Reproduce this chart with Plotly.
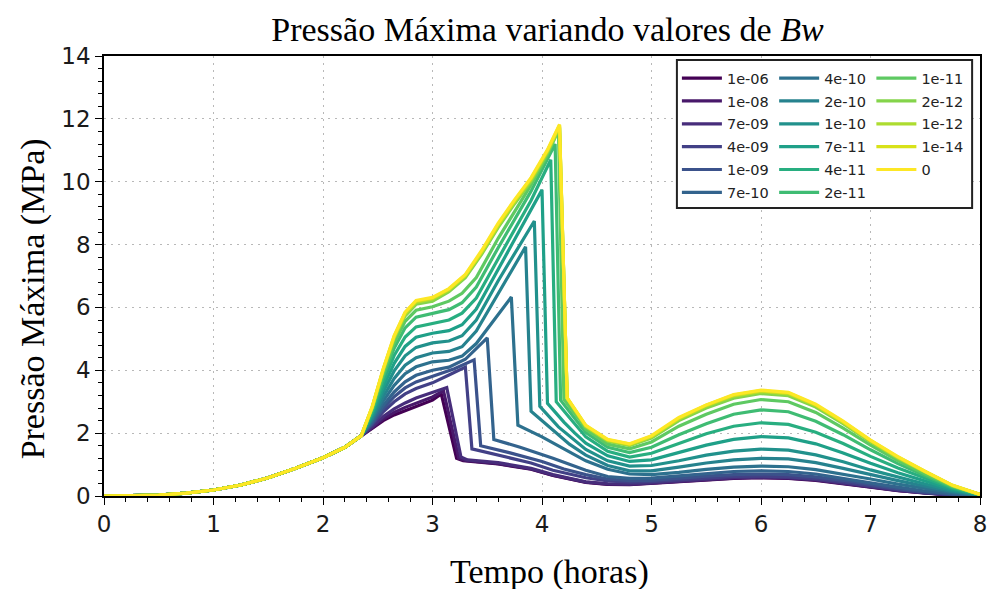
import plotly.graph_objects as go

# ---------------- data ----------------
labels = ["1e-06", "1e-08", "7e-09", "4e-09", "1e-09", "7e-10", "4e-10", "2e-10", "1e-10",
          "7e-11", "4e-11", "2e-11", "1e-11", "2e-12", "1e-12", "1e-14", "0"]

colors = ["#440154", "#48186a", "#472d7b", "#424086", "#3b528b", "#33638d", "#2d718e", "#26828e",
          "#21918c", "#1fa088", "#28ae80", "#3fbc73", "#5ec962", "#84d44b", "#addc30", "#d8e219", "#fde725"]

# common initial part (identical for every Bw)
t_early = [0.0, 0.25, 0.5, 0.75, 1.0, 1.25, 1.5, 1.75, 2.0, 2.2, 2.35]
p_early = [0.0, 0.005, 0.03, 0.09, 0.19, 0.35, 0.58, 0.88, 1.22, 1.55, 1.92]

# common time grid for the late part
t_tail = [4.4, 4.6, 4.8, 5.0, 5.25, 5.5, 5.75, 6.0, 6.25, 6.5, 6.75, 7.0, 7.25, 7.5, 7.75, 8.0]

# middle part (rise, peak, drop) per series
t_mid_1e06 = [2.45, 2.55, 2.65, 2.75, 2.85, 3.0, 3.08, 3.22, 3.28, 3.6, 3.9, 4.1]
p_mid_1e06 = [2.15, 2.4, 2.58, 2.72, 2.86, 3.05, 3.25, 1.2, 1.12, 1.02, 0.85, 0.65]
tail_1e06 = [0.43, 0.37, 0.36, 0.4, 0.46, 0.52, 0.56, 0.58, 0.56, 0.5, 0.4, 0.28, 0.17, 0.09, 0.03, 0.0]

t_mid_1e08 = [2.45, 2.55, 2.65, 2.75, 2.85, 3.0, 3.1, 3.24, 3.3, 3.6, 3.9, 4.1]
p_mid_1e08 = [2.17, 2.45, 2.66, 2.82, 2.96, 3.15, 3.35, 1.2, 1.13, 1.03, 0.86, 0.66]
tail_1e08 = [0.44, 0.38, 0.37, 0.41, 0.47, 0.53, 0.57, 0.59, 0.57, 0.51, 0.41, 0.29, 0.18, 0.09, 0.03, 0.0]

t_mid_7e09 = [2.45, 2.55, 2.65, 2.75, 2.85, 3.0, 3.13, 3.26, 3.32, 3.6, 3.9, 4.1]
p_mid_7e09 = [2.2, 2.53, 2.77, 2.96, 3.12, 3.3, 3.45, 1.24, 1.15, 1.06, 0.88, 0.68]
tail_7e09 = [0.45, 0.39, 0.38, 0.42, 0.48, 0.54, 0.58, 0.6, 0.58, 0.52, 0.42, 0.3, 0.18, 0.1, 0.03, 0.0]

t_mid_4e09 = [2.45, 2.55, 2.65, 2.75, 2.85, 3.0, 3.15, 3.3, 3.36, 3.6, 3.9, 4.1]
p_mid_4e09 = [2.27, 2.68, 3.0, 3.25, 3.42, 3.6, 3.85, 4.1, 1.5, 1.3, 1.05, 0.82]
tail_4e09 = [0.58, 0.48, 0.44, 0.46, 0.52, 0.58, 0.62, 0.63, 0.61, 0.55, 0.45, 0.32, 0.2, 0.1, 0.04, 0.0]

t_mid_1e09 = [2.45, 2.55, 2.65, 2.75, 2.85, 3.0, 3.2, 3.38, 3.44, 3.7, 4.0, 4.2]
p_mid_1e09 = [2.31, 2.78, 3.16, 3.44, 3.63, 3.8, 4.05, 4.33, 1.6, 1.38, 1.1, 0.86]
tail_1e09 = [0.68, 0.54, 0.49, 0.5, 0.57, 0.63, 0.68, 0.7, 0.68, 0.61, 0.5, 0.36, 0.23, 0.12, 0.05, 0.01]

t_mid_7e10 = [2.45, 2.55, 2.65, 2.75, 2.85, 3.0, 3.15, 3.3, 3.5, 3.56, 3.8, 4.1]
p_mid_7e10 = [2.35, 2.88, 3.31, 3.63, 3.84, 4.0, 4.1, 4.35, 5.03, 1.8, 1.55, 1.2]
tail_7e10 = [0.82, 0.62, 0.56, 0.57, 0.64, 0.72, 0.78, 0.8, 0.78, 0.7, 0.57, 0.42, 0.28, 0.16, 0.07, 0.01]

t_mid_4e10 = [2.45, 2.55, 2.65, 2.75, 2.85, 3.0, 3.15, 3.27, 3.4, 3.55, 3.72, 3.78, 4.0, 4.2]
p_mid_4e10 = [2.41, 3.02, 3.52, 3.89, 4.11, 4.27, 4.32, 4.45, 4.85, 5.55, 6.33, 2.25, 1.88, 1.5]
tail_4e10 = [1.12, 0.85, 0.7, 0.68, 0.75, 0.85, 0.92, 0.95, 0.93, 0.84, 0.7, 0.54, 0.38, 0.24, 0.11, 0.02]

t_mid_2e10 = [2.45, 2.55, 2.65, 2.75, 2.85, 3.0, 3.15, 3.27, 3.4, 3.6, 3.85, 3.9, 4.1, 4.25]
p_mid_2e10 = [2.47, 3.16, 3.74, 4.16, 4.4, 4.55, 4.6, 4.75, 5.25, 6.42, 7.93, 2.7, 2.1, 1.65]
tail_2e10 = [1.3, 0.97, 0.8, 0.8, 0.92, 1.05, 1.15, 1.2, 1.18, 1.06, 0.88, 0.68, 0.49, 0.31, 0.14, 0.03]

t_mid_1e10 = [2.45, 2.55, 2.65, 2.75, 2.85, 3.0, 3.15, 3.27, 3.4, 3.6, 3.93, 3.98, 4.15, 4.3]
p_mid_1e10 = [2.54, 3.32, 3.98, 4.46, 4.73, 4.87, 4.93, 5.1, 5.6, 6.85, 8.75, 2.85, 2.2, 1.75]
tail_1e10 = [1.48, 1.12, 0.95, 0.97, 1.12, 1.3, 1.43, 1.49, 1.46, 1.31, 1.09, 0.83, 0.6, 0.38, 0.17, 0.03]

t_mid_7e11 = [2.45, 2.55, 2.65, 2.75, 2.85, 3.0, 3.15, 3.27, 3.4, 3.6, 3.85, 4.0, 4.05, 4.2, 4.3]
p_mid_7e11 = [2.61, 3.47, 4.22, 4.76, 5.05, 5.18, 5.26, 5.45, 5.95, 7.2, 8.8, 9.74, 2.95, 2.35, 2.0]
tail_7e11 = [1.68, 1.28, 1.1, 1.15, 1.38, 1.62, 1.8, 1.89, 1.85, 1.66, 1.37, 1.04, 0.74, 0.47, 0.21, 0.04]

t_mid_4e11 = [2.45, 2.55, 2.65, 2.75, 2.85, 3.0, 3.15, 3.27, 3.4, 3.6, 3.9, 4.08, 4.13, 4.25, 4.32]
p_mid_4e11 = [2.67, 3.64, 4.47, 5.06, 5.38, 5.5, 5.6, 5.82, 6.3, 7.55, 9.4, 10.7, 3.0, 2.5, 2.2]
tail_4e11 = [1.88, 1.42, 1.24, 1.36, 1.68, 1.98, 2.22, 2.33, 2.28, 2.03, 1.67, 1.26, 0.89, 0.56, 0.25, 0.04]

t_mid_2e11 = [2.45, 2.55, 2.65, 2.75, 2.85, 3.0, 3.15, 3.27, 3.4, 3.6, 3.9, 4.12, 4.17, 4.27, 4.34]
p_mid_2e11 = [2.74, 3.79, 4.7, 5.35, 5.69, 5.8, 5.93, 6.15, 6.65, 7.9, 9.7, 11.2, 3.05, 2.6, 2.3]
tail_2e11 = [2.02, 1.55, 1.38, 1.55, 1.95, 2.3, 2.6, 2.74, 2.68, 2.38, 1.95, 1.47, 1.03, 0.64, 0.28, 0.05]

t_mid_1e11 = [2.45, 2.55, 2.65, 2.75, 2.85, 3.0, 3.15, 3.27, 3.4, 3.6, 3.9, 4.05, 4.15, 4.2, 4.29, 4.35]
p_mid_1e11 = [2.79, 3.9, 4.87, 5.56, 5.91, 6.02, 6.2, 6.45, 6.95, 8.2, 9.9, 10.85, 11.65, 3.08, 2.65, 2.4]
tail_1e11 = [2.12, 1.65, 1.5, 1.72, 2.22, 2.6, 2.92, 3.07, 3.0, 2.66, 2.16, 1.62, 1.13, 0.7, 0.31, 0.05]

t_mid_top = [2.45, 2.55, 2.65, 2.75, 2.85, 3.0, 3.15, 3.3, 3.45, 3.6, 3.75, 3.9, 4.05, 4.16, 4.23, 4.3, 4.35]
p_mid_2e12 = [2.82, 3.99, 5.01, 5.73, 6.1, 6.2, 6.5, 6.95, 7.7, 8.55, 9.3, 10.0, 10.92, 11.72, 3.1, 2.7, 2.45]
tail_2e12 = [2.2, 1.74, 1.6, 1.84, 2.4, 2.8, 3.11, 3.26, 3.19, 2.83, 2.3, 1.72, 1.2, 0.75, 0.32, 0.05]

p_mid_1e12 = [2.83, 4.01, 5.05, 5.79, 6.16, 6.27, 6.55, 7.0, 7.75, 8.6, 9.36, 10.06, 10.96, 11.76, 3.1, 2.72, 2.47]
tail_1e12 = [2.22, 1.77, 1.63, 1.88, 2.45, 2.86, 3.18, 3.32, 3.25, 2.88, 2.34, 1.75, 1.22, 0.77, 0.33, 0.05]

p_mid_1e14 = [2.84, 4.03, 5.08, 5.83, 6.2, 6.3, 6.58, 7.03, 7.78, 8.64, 9.4, 10.1, 10.99, 11.8, 3.12, 2.74, 2.48]
tail_1e14 = [2.24, 1.79, 1.65, 1.9, 2.48, 2.89, 3.21, 3.35, 3.28, 2.9, 2.36, 1.77, 1.24, 0.78, 0.34, 0.05]

p_mid_0 = [2.85, 4.05, 5.1, 5.85, 6.22, 6.32, 6.6, 7.05, 7.82, 8.68, 9.43, 10.13, 11.02, 11.82, 3.12, 2.75, 2.5]
tail_0 = [2.25, 1.8, 1.66, 1.92, 2.5, 2.9, 3.23, 3.37, 3.3, 2.92, 2.38, 1.78, 1.25, 0.78, 0.34, 0.05]

mids = [
    (t_mid_1e06, p_mid_1e06, tail_1e06),
    (t_mid_1e08, p_mid_1e08, tail_1e08),
    (t_mid_7e09, p_mid_7e09, tail_7e09),
    (t_mid_4e09, p_mid_4e09, tail_4e09),
    (t_mid_1e09, p_mid_1e09, tail_1e09),
    (t_mid_7e10, p_mid_7e10, tail_7e10),
    (t_mid_4e10, p_mid_4e10, tail_4e10),
    (t_mid_2e10, p_mid_2e10, tail_2e10),
    (t_mid_1e10, p_mid_1e10, tail_1e10),
    (t_mid_7e11, p_mid_7e11, tail_7e11),
    (t_mid_4e11, p_mid_4e11, tail_4e11),
    (t_mid_2e11, p_mid_2e11, tail_2e11),
    (t_mid_1e11, p_mid_1e11, tail_1e11),
    (t_mid_top, p_mid_2e12, tail_2e12),
    (t_mid_top, p_mid_1e12, tail_1e12),
    (t_mid_top, p_mid_1e14, tail_1e14),
    (t_mid_top, p_mid_0, tail_0),
]

# ---------------- figure ----------------
fig = go.Figure()
legend_names = ["legend", "legend2", "legend3"]
for i, (lab, col, (tm, pm, tl)) in enumerate(zip(labels, colors, mids)):
    x = t_early + tm + t_tail
    y = p_early + pm + tl
    fig.add_trace(go.Scatter(
        x=x, y=y, mode="lines", name=lab,
        line=dict(color=col, width=3.2),
        legend=legend_names[i // 6], legendgroup=lab,
    ))

axis_common = dict(
    showline=True, linecolor="#000", linewidth=1.5, mirror=True,
    ticks="outside", ticklen=7, tickwidth=1.2, tickcolor="#000",
    showgrid=True, gridcolor="#b8b8b8", griddash="2px,5px", gridwidth=1.3,
    zeroline=False, automargin=False,
    tickfont=dict(family="DejaVu Sans", size=23, color="#1a1a1a"),
)

fig.update_xaxes(
    range=[0, 8], dtick=1, tick0=0,
    minor=dict(dtick=0.2, ticks="outside", ticklen=4, tickcolor="#000", showgrid=False),
    **axis_common,
)
fig.update_yaxes(
    range=[0, 14], dtick=2, tick0=0,
    minor=dict(dtick=0.4, ticks="outside", ticklen=4, tickcolor="#000", showgrid=False),
    **axis_common,
)

leg_common = dict(
    bgcolor="rgba(0,0,0,0)", borderwidth=0,
    font=dict(family="DejaVu Sans", size=14.5, color="#222"),
    yanchor="top", xanchor="left", y=0.986, tracegroupgap=1,
    orientation="v", itemwidth=40,
)

serif = "Liberation Serif"
fig.update_layout(
    width=990, height=589,
    margin=dict(l=104, r=10, t=56, b=93),
    paper_bgcolor="white", plot_bgcolor="white",
    showlegend=True,
    title=dict(text="Pressão Máxima variando valores de <i>Bw</i>",
               font=dict(family=serif, size=34, color="#000"),
               x=0.553, xanchor="center", y=0.951, yanchor="middle"),
    legend=dict(x=0.654, **leg_common),
    legend2=dict(x=0.765, **leg_common),
    legend3=dict(x=0.876, **leg_common),
    shapes=[dict(type="rect", xref="paper", yref="paper",
                 x0=0.654, x1=0.991, y0=0.6545, y1=0.991,
                 line=dict(color="#222", width=2), fillcolor="white", layer="above")],
    annotations=[
        dict(text="Tempo (horas)", xref="paper", yref="paper", x=0.508, y=-0.173,
             xanchor="center", yanchor="middle", showarrow=False,
             font=dict(family=serif, size=34, color="#000")),
        dict(text="Pressão Máxima (MPa)", xref="paper", yref="paper", x=-0.081, y=0.447,
             xanchor="center", yanchor="middle", showarrow=False, textangle=-90,
             font=dict(family=serif, size=34, color="#000")),
    ],
)

fig.write_html("out.html", config={"displayModeBar": False},
               post_script="document.body.style.margin='0';document.body.style.padding='0';")
